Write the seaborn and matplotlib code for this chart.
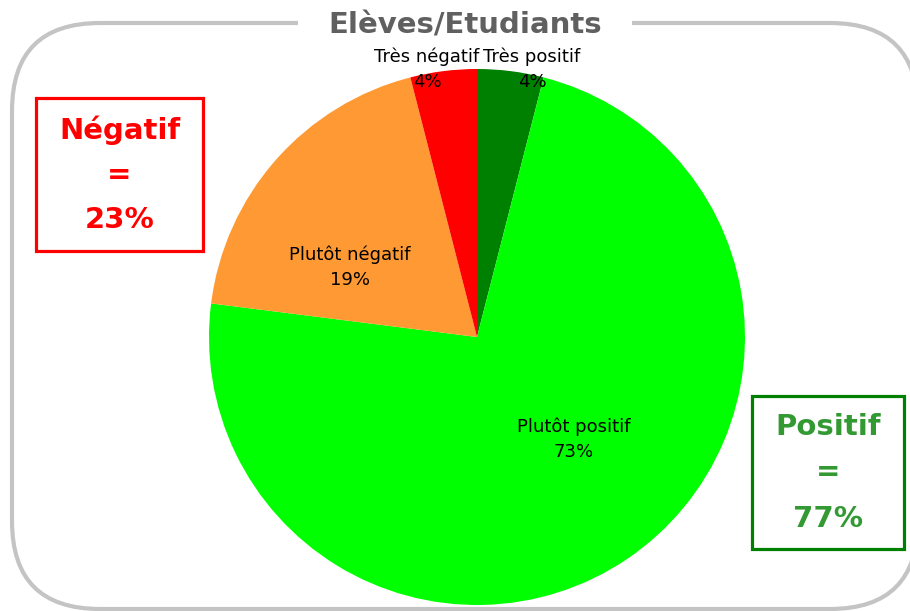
import matplotlib
matplotlib.use("Agg")
import matplotlib.pyplot as plt
import seaborn as sns
from matplotlib.patches import FancyBboxPatch, Rectangle

sns.set_theme(style="white")
plt.rcParams['font.family'] = ['DejaVu Sans']

# ---- data ----
categories = ["Très positif", "Plutôt positif", "Plutôt négatif", "Très négatif"]
values = [4, 73, 19, 4]
colors = ["#008000", "#00FF00", "#FF9933", "#FF0000"]
title = "Elèves/Etudiants"
neg_lines = ["Négatif", "=", "23%"]
pos_lines = ["Positif", "=", "77%"]

W, H = 910, 611
fig = plt.figure(figsize=(W / 100, H / 100), dpi=100)
ax = fig.add_axes([0, 0, 1, 1])
ax.set_xlim(0, W)
ax.set_ylim(0, H)
ax.axis("off")

def Y(py):
    return H - py

# frame
frame = FancyBboxPatch((12, Y(609)), 906, 586, boxstyle="round,pad=0,rounding_size=88",
                       linewidth=3, edgecolor="#C4C4C4", facecolor="white", zorder=0)
ax.add_patch(frame)
ax.add_patch(Rectangle((298, Y(40)), 334, 30, facecolor="white", edgecolor="none", zorder=1))
ax.text(465, Y(25), title, ha="center", va="center", fontsize=21, fontweight="bold",
        color="#606060", zorder=2)

center = (477, Y(337))
radius = 268
wedges, _ = ax.pie(values, colors=colors, startangle=90, counterclock=False,
                   center=center, radius=radius, frame=True,
                   wedgeprops=dict(linewidth=0, zorder=3))
ax.set_xlim(0, W)
ax.set_ylim(0, H)
ax.axis("off")

# labels (position in pixel coords)
label_pos = [(532, 57), (574, 427), (350, 255), (427, 57)]
for cat, v, (lx, ly) in zip(categories, values, label_pos):
    ax.text(lx, Y(ly), cat, ha="center", va="center", fontsize=13, color="black", zorder=5)
    ax.text(lx, Y(ly + 25), f"{v}%", ha="center", va="center", fontsize=13, color="black", zorder=5)

# side boxes
ax.add_patch(Rectangle((36, Y(251)), 167, 153, facecolor="white", edgecolor="#FF0000",
                       linewidth=2.3, zorder=4))
for txt, py in zip(neg_lines, [130, 175, 220]):
    ax.text(119.5, Y(py), txt, ha="center", va="center", fontsize=21, fontweight="bold",
            color="#FF0000", zorder=5)

ax.add_patch(Rectangle((752, Y(549)), 152, 153, facecolor="white", edgecolor="#008000",
                       linewidth=2.3, zorder=4))
for txt, py in zip(pos_lines, [427, 472, 519]):
    ax.text(828, Y(py), txt, ha="center", va="center", fontsize=21, fontweight="bold",
            color="#339933", zorder=5)

fig.savefig("out.png", dpi=100)
